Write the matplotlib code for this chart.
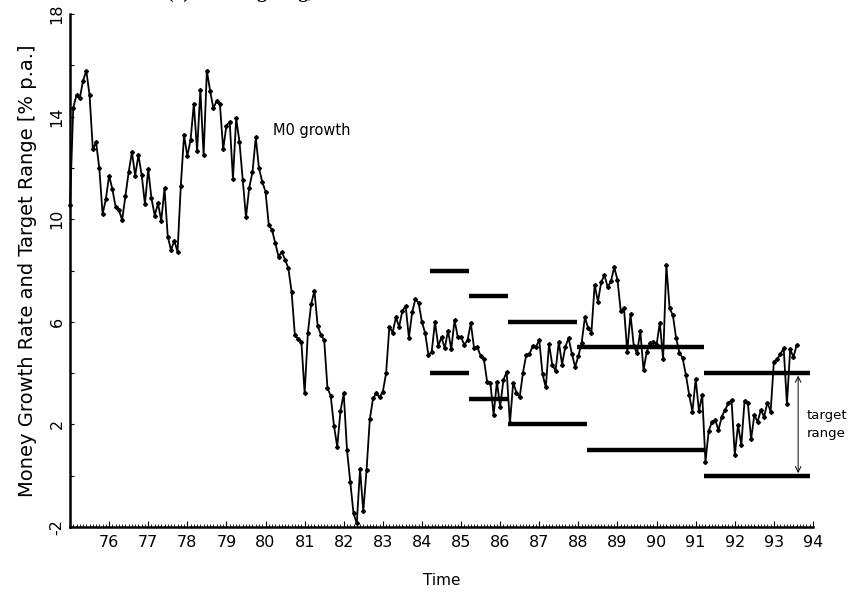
import numpy as np
import matplotlib
matplotlib.use("Agg")
import matplotlib.pyplot as plt
from matplotlib.ticker import MultipleLocator

# monthly M0 growth, Jan 1975 onwards (% p.a.)
START_YEAR = 75.0
m0_growth = [
    10.55, 14.35, 14.84, 14.71, 15.40, 15.79, 14.84, 12.73, 13.00, 11.98,
    10.20, 10.78, 11.70, 11.17, 10.49, 10.36, 9.97, 10.90, 11.83, 12.62,
    11.70, 12.50, 11.72, 10.59, 11.95, 10.81, 10.14, 10.62, 9.94, 11.20,
    9.32, 8.80, 9.16, 8.73, 11.30, 13.28, 12.46, 13.09, 14.49, 12.66,
    15.04, 12.50, 15.79, 15.00, 14.32, 14.62, 14.49, 12.73, 13.65, 13.80,
    11.57, 13.93, 13.02, 11.53, 10.07, 11.23, 11.83, 13.19, 11.98, 11.46,
    11.07, 9.77, 9.58, 9.06, 8.54, 8.73, 8.42, 8.09, 7.17, 5.49,
    5.33, 5.22, 3.21, 5.58, 6.69, 7.21, 5.84, 5.49, 5.29, 3.43,
    3.11, 1.95, 1.13, 2.52, 3.21, 1.00, -0.23, -1.47, -1.86, 0.25,
    -1.38, 0.22, 2.20, 3.02, 3.21, 3.06, 3.28, 3.99, 5.81, 5.58,
    6.17, 5.81, 6.43, 6.62, 5.38, 6.37, 6.90, 6.72, 5.99, 5.55,
    4.69, 4.84, 6.00, 5.06, 5.40, 4.97, 5.65, 4.93, 6.07, 5.40,
    5.40, 5.10, 5.29, 5.94, 4.97, 5.01, 4.67, 4.54, 3.67, 3.60,
    2.37, 3.67, 2.69, 3.73, 4.05, 2.04, 3.63, 3.24, 3.06, 4.02,
    4.71, 4.75, 5.06, 5.03, 5.29, 3.96, 3.45, 5.13, 4.32, 4.09,
    5.22, 4.33, 5.03, 5.36, 4.76, 4.24, 4.67, 5.17, 6.17, 5.75,
    5.58, 7.45, 6.78, 7.54, 7.82, 7.35, 7.58, 8.13, 7.63, 6.43,
    6.52, 4.84, 6.29, 5.06, 4.77, 5.64, 4.12, 4.84, 5.16, 5.22,
    5.10, 5.97, 4.54, 8.21, 6.52, 6.26, 5.36, 4.80, 4.58, 3.93,
    3.15, 2.50, 3.77, 2.53, 3.15, 0.55, 1.75, 2.10, 2.17, 1.78,
    2.30, 2.56, 2.82, 2.95, 0.81, 1.98, 1.20, 2.92, 2.85, 1.42,
    2.37, 2.10, 2.56, 2.30, 2.85, 2.50, 4.45, 4.54, 4.75, 4.97,
    2.80, 4.93, 4.62, 5.10,
]

# target ranges: (from, to, level)
target_upper = [(84.21, 85.21, 8), (85.21, 86.21, 7), (86.21, 87.97, 6),
                (87.97, 91.22, 5), (91.22, 93.93, 4)]
target_lower = [(84.21, 85.21, 4), (85.21, 86.21, 3), (86.21, 88.21, 2),
                (88.21, 91.22, 1), (91.22, 93.93, 0)]

year_ticks = list(range(76, 95))

fig = plt.figure(figsize=(8.54, 5.94), dpi=100)
ax = fig.add_axes([70 / 854, 1 - 527 / 594, 743 / 854, 513 / 594])

t = START_YEAR + np.arange(len(m0_growth)) / 12.0
ax.plot(t, m0_growth, color="black", lw=1.3, marker="D", ms=2.0,
        clip_on=False, zorder=3)

for x0, x1, lvl in target_upper + target_lower:
    ax.plot([x0, x1], [lvl, lvl], color="black", lw=3.2,
            solid_capstyle="butt", zorder=2)

# arrow showing the width of the target range
ax.annotate("", xy=(93.62, 0.1), xytext=(93.62, 3.9),
            arrowprops=dict(arrowstyle="<->", color="black", lw=0.7,
                            shrinkA=0, shrinkB=0))
ax.text(93.83, 2.0, "target\nrange", fontsize=9.5, va="center", ha="left",
        linespacing=1.5, clip_on=False)
ax.text(80.2, 13.45, "M0 growth", fontsize=10.5, va="center", ha="left")

ax.set_xlim(75, 94)
ax.set_ylim(-2, 18)
ax.set_xticks(year_ticks)
ax.set_xticklabels([str(y) for y in year_ticks], fontsize=11.5)
ax.xaxis.set_minor_locator(MultipleLocator(1 / 12))
ax.set_yticks([-2, 2, 6, 10, 14, 18])
ax.set_yticklabels(["-2", "2", "6", "10", "14", "18"], fontsize=11.5,
                   rotation=90, va="center")
ax.yaxis.set_minor_locator(MultipleLocator(2))

ax.tick_params(axis="x", which="major", direction="in", length=4, width=0.8, pad=6)
ax.tick_params(axis="x", which="minor", direction="in", length=2.5, width=0.6)
ax.tick_params(axis="y", which="major", direction="in", length=3, width=0.8, pad=4)
ax.tick_params(axis="y", which="minor", direction="in", length=3, width=0.8)

for side in ("top", "right"):
    ax.spines[side].set_visible(False)
for side in ("left", "bottom"):
    ax.spines[side].set_linewidth(1.8)

ax.set_xlabel("Time", fontsize=11, labelpad=16)
ax.set_ylabel("Money Growth Rate and Target Range [% p.a.]", fontsize=14,
              labelpad=9)

# panel title sits above the top edge; only its lowest strokes reach the canvas
fig.text(167 / 854, 1 + 2 / 594, "(a) M0 Targeting, UK", fontsize=14,
         family="Liberation Serif", weight="bold", va="baseline", ha="left")

fig.savefig("out.png", dpi=100)
